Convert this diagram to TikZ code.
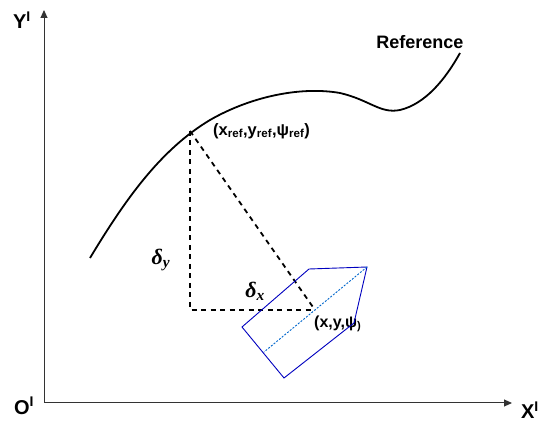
\documentclass[tikz,border=0pt]{standalone}
\usepackage{fontspec}
\setmainfont{Liberation Sans}
\newfontfamily\dltfont{Liberation Serif}
\usetikzlibrary{arrows.meta}
\begin{document}
\begin{tikzpicture}[x=1pt,y=-1pt,
  axis/.style={draw=black!80,line width=1pt,-{Triangle[length=8pt,width=7pt]}},
  lbl/.style={inner sep=0pt,font=\bfseries},
  dlt/.style={inner sep=0pt,font=\dltfont\bfseries\itshape\fontsize{22}{24}\selectfont},
  dsh/.style={line width=1.8pt,dash pattern=on 5pt off 4.5pt},
  veh/.style={draw=blue!75!black,line width=0.9pt}]
\useasboundingbox (0,0) rectangle (542,425);
\coordinate (O) at (44,403);
\coordinate (Ytip) at (44,10);
\coordinate (Xtip) at (512,403);
\draw[axis] (O) -- (Ytip);
\draw[axis] (O) -- (Xtip);
\node[lbl,font=\bfseries\fontsize{20}{22}\selectfont] (ylab) at (22,20) {Y\textsuperscript{I}};
\node[lbl,font=\bfseries\fontsize{20}{22}\selectfont] (olab) at (24,406) {O\textsuperscript{I}};
\node[lbl,font=\bfseries\fontsize{20}{22}\selectfont] (xlab) at (530,410) {X\textsuperscript{I}};
% reference curve
\draw[line width=1.8pt] (90,258) .. controls (125,200) and (160,150) .. (210,120)
  .. controls (250,97) and (300,86) .. (340,93)
  .. controls (370,100) and (380,114) .. (400,110)
  .. controls (425,104) and (445,80) .. (460,53);
\node[lbl,font=\bfseries\fontsize{18}{20}\selectfont] (reflab) at (420,42) {Reference};
% points
\coordinate (R) at (190,131);
\coordinate (C) at (190,310);
\coordinate (P) at (315,310);
\draw[dsh] (R) -- (C) -- (P);
\draw[dsh] (R) -- (P);
\node[dlt] (dy) at (161,260) {δ\textsubscript{y}};
\node[dlt] (dx) at (255,291) {δ\textsubscript{x}};
\node[lbl,anchor=west,font=\bfseries\fontsize{16.5}{18}\selectfont] (rlab) at (213,131) {(x\textsubscript{ref},y\textsubscript{ref},ψ\textsubscript{ref})};
\node[lbl,anchor=west,font=\bfseries\fontsize{16}{18}\selectfont] (plab) at (314,324) {(x,y,ψ\textsubscript{)}};
% vehicle
\coordinate (v1) at (309,269);
\coordinate (v2) at (367,267);
\coordinate (v3) at (354,323);
\coordinate (v4) at (284,378);
\coordinate (v5) at (242,327);
\coordinate (tail) at (264,352);
\draw[veh] (v1) -- (v2) -- (v3) -- (v4) -- (v5) -- cycle;
\draw[draw=blue!50!cyan!80!black,line width=0.9pt,dash pattern=on 2pt off 1.5pt] (v2) -- (tail);
\end{tikzpicture}
\end{document}
